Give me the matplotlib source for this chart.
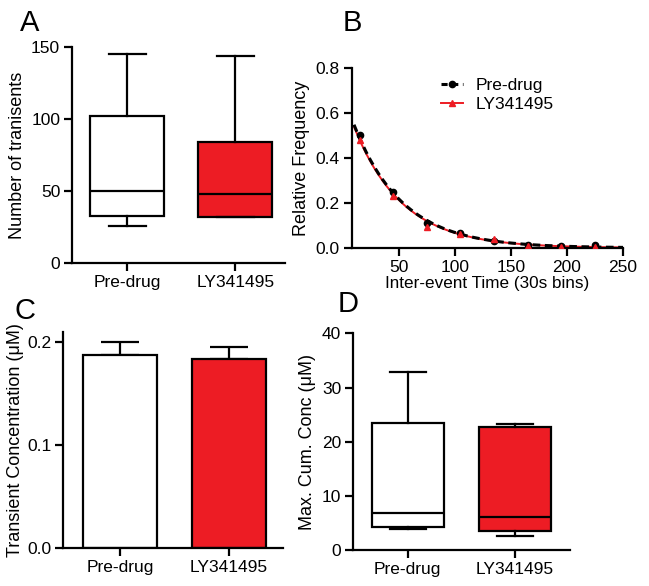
import numpy as np
import matplotlib
matplotlib.use('Agg')
import matplotlib.pyplot as plt

plt.rcParams['font.family'] = ['Liberation Sans', 'DejaVu Sans']
plt.rcParams['font.size'] = 12
plt.rcParams['axes.linewidth'] = 1.6
plt.rcParams['xtick.major.width'] = 1.6
plt.rcParams['ytick.major.width'] = 1.6

RED = '#ED1C24'
groups = ['Pre-drug', 'LY341495']

# A: number of transients (min, q1, median, q3, max)
a_pre = [26, 33, 50, 102, 145]
a_ly = [32, 32, 48, 84, 144]

# B: inter-event time distribution
b_x = [15, 45, 75, 105, 135, 165, 195, 225]
b_pre = [0.50, 0.25, 0.11, 0.065, 0.03, 0.012, 0.008, 0.012]
b_ly = [0.48, 0.23, 0.095, 0.06, 0.04, 0.01, 0.005, 0.005]
# one-phase decay fit: y = y0 * exp(-k x)
fit_pre = (0.69, 0.0231)
fit_ly = (0.68, 0.0232)

# C: transient concentration mean + sem
c_mean = [0.187, 0.1835]
c_err = [0.013, 0.0115]

# D: max cumulative concentration (min, q1, median, q3, max)
d_pre = [3.9, 4.3, 6.8, 23.5, 32.9]
d_ly = [2.7, 3.6, 6.2, 22.8, 23.2]

TICK = 12.5
YLAB = 13
XLAB = 12.3


def box(ax, stats, pos, color, width):
    lo, q1, med, q3, hi = stats
    d = [{'whislo': lo, 'q1': q1, 'med': med, 'q3': q3, 'whishi': hi, 'fliers': []}]
    ax.bxp(d, positions=[pos], widths=width, patch_artist=True, showfliers=False,
           boxprops=dict(facecolor=color, edgecolor='black', linewidth=1.6),
           medianprops=dict(color='black', linewidth=1.6),
           whiskerprops=dict(color='black', linewidth=1.6),
           capprops=dict(color='black', linewidth=1.6))


def style(ax):
    ax.spines['top'].set_visible(False)
    ax.spines['right'].set_visible(False)
    ax.tick_params(length=6, labelsize=TICK, pad=2.5)


fig = plt.figure(figsize=(6.49, 5.86), dpi=100)

# Panel A
axA = fig.add_axes([0.111, 0.551, 0.328, 0.369])
box(axA, a_pre, 1, 'white', 0.68)
box(axA, a_ly, 2, RED, 0.68)
axA.set_xlim(0.49, 2.46)
axA.set_ylim(0, 150)
axA.set_yticks([0, 50, 100, 150])
axA.set_xticks([1, 2])
axA.set_xticklabels(groups)
axA.set_ylabel('Number of tranisents', fontsize=YLAB, labelpad=4)
style(axA)

# Panel B
axB = fig.add_axes([0.542, 0.577, 0.418, 0.307])
xs = np.linspace(10, 250, 200)
axB.plot(xs, fit_pre[0] * np.exp(-fit_pre[1] * xs), color='black', ls=(0, (2.5, 1.5)), lw=2.2, zorder=3)
axB.plot(xs, fit_ly[0] * np.exp(-fit_ly[1] * xs), color=RED, lw=1.4, zorder=2)
axB.plot(b_x, b_pre, 'o', color='black', ms=4.5, zorder=4)
axB.plot(b_x, b_ly, '^', color=RED, ms=4.5, zorder=4)
axB.plot([], [], color='black', ls=(0, (2.0, 1.5)), lw=2.2, marker='o', ms=4.5, label='Pre-drug')
axB.plot([], [], color=RED, lw=1.4, marker='^', ms=4.5, label='LY341495')
axB.legend(loc='upper left', bbox_to_anchor=(0.27, 1.03), frameon=False, fontsize=TICK,
           handlelength=1.3, handletextpad=0.7, labelspacing=0.2)
axB.set_xlim(8, 250)
axB.set_ylim(0, 0.8)
axB.set_xticks([50, 100, 150, 200, 250])
axB.set_yticks([0.0, 0.2, 0.4, 0.6, 0.8])
axB.set_yticklabels(['0.0', '0.2', '0.4', '0.6', '0.8'])
axB.set_xlabel('Inter-event Time (30s bins)', fontsize=XLAB, labelpad=1)
axB.set_ylabel('Relative Frequency', fontsize=YLAB, labelpad=4)
style(axB)

# Panel C
axC = fig.add_axes([0.097, 0.065, 0.339, 0.369])
axC.bar([1, 2], c_mean, width=0.68, color=['white', RED], edgecolor='black', linewidth=1.6, zorder=2)
axC.errorbar([1, 2], c_mean, yerr=[[0, 0], c_err], fmt='none', ecolor='black',
             elinewidth=1.6, capsize=14, capthick=1.6, zorder=1)
axC.set_xlim(0.477, 2.495)
axC.set_ylim(0, 0.21)
axC.set_yticks([0.0, 0.1, 0.2])
axC.set_yticklabels(['0.0', '0.1', '0.2'])
axC.set_xticks([1, 2])
axC.set_xticklabels(groups)
axC.set_ylabel('Transient Concentration (\u03bcM)', fontsize=YLAB, labelpad=2)
style(axC)

# Panel D
axD = fig.add_axes([0.544, 0.061, 0.334, 0.370])
box(axD, d_pre, 1, 'white', 0.67)
box(axD, d_ly, 2, RED, 0.67)
axD.set_xlim(0.49, 2.51)
axD.set_ylim(0, 40)
axD.set_yticks([0, 10, 20, 30, 40])
axD.set_xticks([1, 2])
axD.set_xticklabels(groups)
axD.set_ylabel('Max. Cum. Conc (\u03bcM)', fontsize=YLAB, labelpad=4)
style(axD)

for lbl, (x, y) in zip('ABCD', [(20, 9), (343, 9), (14, 297), (338, 290)]):
    fig.text(x / 649, 1 - y / 586, lbl, fontsize=21, va='top', ha='left')

fig.savefig('out.png', dpi=100)
